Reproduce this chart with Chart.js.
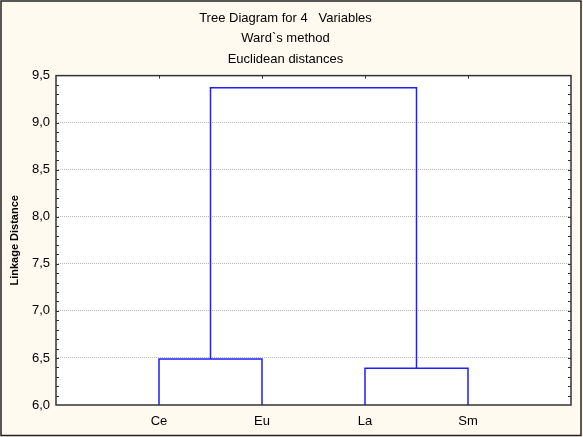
<!DOCTYPE html>
<html>
<head>
<meta charset="utf-8">
<script src="https://cdn.jsdelivr.net/npm/chart.js@4.4.0/dist/chart.umd.min.js"></script>
<style>
  html, body { margin: 0; padding: 0; background: #fffaf0; }
  #wrap { width: 583px; height: 437px; }
</style>
</head>
<body>
<div id="wrap"><canvas id="canvas" width="583" height="437"></canvas></div>
<script>
const leaves = ['Ce', 'Eu', 'La', 'Sm'];
// nodes 0..3 are the leaves, every merge adds a new node (4, 5, 6 ...)
const mergeLeft = [0, 2, 4];
const mergeRight = [1, 3, 5];
const mergeHeight = [6.49, 6.39, 9.37];
const yTicks = [6.0, 6.5, 7.0, 7.5, 8.0, 8.5, 9.0, 9.5];
const titleLines = ['Tree Diagram for 4   Variables', 'Ward`s method', 'Euclidean distances'];

const fontFamily = "Arial, 'Liberation Sans', sans-serif";

// build the U shaped links of the tree
const nodeX = leaves.map((_, i) => i + 1);
const nodeY = leaves.map(() => yTicks[0]);
const datasets = [];
mergeHeight.forEach((h, i) => {
    const a = mergeLeft[i];
    const b = mergeRight[i];
    datasets.push({
        data: [
            {x: nodeX[a], y: nodeY[a]},
            {x: nodeX[a], y: h},
            {x: nodeX[b], y: h},
            {x: nodeX[b], y: nodeY[b]},
        ],
        showLine: true,
        fill: false,
        borderColor: 'rgb(30,30,255)',
        borderWidth: 1.5,
        pointRadius: 0,
        tension: 0,
    });
    nodeX.push((nodeX[a] + nodeX[b]) / 2);
    nodeY.push(h);
});

const framePlugin = {
    id: 'frame',
    beforeDraw(chart) {
        const ctx = chart.ctx;
        const area = chart.chartArea;
        ctx.save();
        ctx.fillStyle = '#fffaf0';
        ctx.fillRect(0, 0, chart.width, chart.height);
        ctx.strokeStyle = '#222';
        ctx.lineWidth = 1.5;
        ctx.strokeRect(1, 1, chart.width - 3, chart.height - 2.5);
        ctx.fillStyle = '#ffffff';
        ctx.fillRect(area.left, area.top, area.right - area.left, area.bottom - area.top);
        ctx.restore();
    },
    afterDraw(chart) {
        const ctx = chart.ctx;
        const area = chart.chartArea;
        const x = chart.scales.x;
        const y = chart.scales.y;
        ctx.save();
        ctx.strokeStyle = '#333';
        ctx.lineWidth = 1;
        ctx.beginPath();
        // minor ticks every 0.1 on left and right
        const steps = Math.round((y.max - y.min) / 0.1);
        for (let k = 1; k < steps; k++) {
            const py = Math.round(y.getPixelForValue(y.min + k * 0.1)) + 0.5;
            ctx.moveTo(area.left, py);
            ctx.lineTo(area.left + 3, py);
            ctx.moveTo(area.right, py);
            ctx.lineTo(area.right - 3, py);
        }
        // ticks on top at every category
        leaves.forEach((_, i) => {
            const px = Math.round(x.getPixelForValue(i + 1)) + 0.5;
            ctx.moveTo(px, area.top);
            ctx.lineTo(px, area.top + 3);
        });
        ctx.stroke();
        ctx.lineWidth = 1.5;
        ctx.strokeRect(area.left, area.top, area.right - area.left, area.bottom - area.top);
        ctx.restore();
    },
};

new Chart(document.getElementById('canvas'), {
    type: 'scatter',
    data: {datasets: datasets},
    plugins: [framePlugin],
    options: {
        responsive: false,
        animation: false,
        devicePixelRatio: 1,
        layout: {padding: {left: 0, right: 12, top: 0, bottom: 0}},
        plugins: {
            legend: {display: false},
            tooltip: {enabled: false},
            title: {
                display: true,
                text: titleLines,
                color: '#000',
                font: {family: fontFamily, size: 13, weight: 'normal', lineHeight: 1.58},
                padding: {top: 8, bottom: 6},
            },
        },
        scales: {
            x: {
                type: 'linear',
                min: 0,
                max: 5,
                afterFit: scale => { scale.height = 32; },
                ticks: {
                    stepSize: 1,
                    autoSkip: false,
                    maxRotation: 0,
                    color: '#000',
                    padding: 9,
                    font: {family: fontFamily, size: 13},
                    callback: v => leaves[v - 1] || '',
                },
                grid: {display: false, drawTicks: false},
                border: {display: false},
            },
            y: {
                type: 'linear',
                min: yTicks[0],
                max: yTicks[yTicks.length - 1],
                afterFit: scale => { scale.width = 56; },
                afterBuildTicks: scale => { scale.ticks = yTicks.map(v => ({value: v})); },
                ticks: {
                    color: '#000',
                    padding: 6,
                    font: {family: fontFamily, size: 13},
                    callback: v => Number(v).toFixed(1).replace('.', ','),
                },
                grid: {
                    drawTicks: false,
                    lineWidth: 1,
                    color: c => (c.tick && (c.tick.value === yTicks[0] || c.tick.value === yTicks[yTicks.length - 1])) ? 'rgba(0,0,0,0)' : '#b8b8b8',
                    borderDash: [1, 1],
                },
                border: {display: false, dash: [1, 1]},
                title: {
                    display: true,
                    text: 'Linkage Distance',
                    color: '#000',
                    font: {family: fontFamily, size: 11, weight: 'bold'},
                    padding: {top: 8, bottom: 0},
                },
            },
        },
    },
});
</script>
</body>
</html>
